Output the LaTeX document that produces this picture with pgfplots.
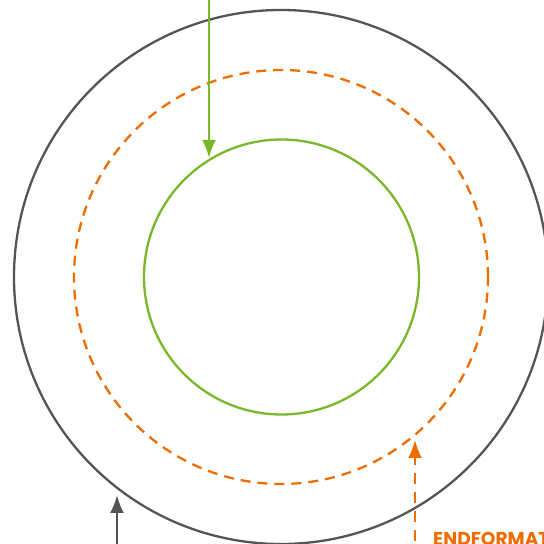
\documentclass[border=0pt]{standalone}
\usepackage{pgfplots}
\pgfplotsset{compat=1.18}
\usetikzlibrary{arrows.meta}
\usepackage{fontspec}
\setmainfont{Poppins}
\definecolor{cgray}{HTML}{555555}
\definecolor{cgreen}{HTML}{78B82A}
\definecolor{corange}{HTML}{EF6C00}
\begin{document}
\begin{tikzpicture}
\begin{axis}[
  width=544pt, height=544pt, scale only axis,
  xmin=0, xmax=544, ymin=0, ymax=544,
  hide axis, clip=true, axis equal image,
]
% circles (center, radius in px)
\draw[cgray, line width=2.3pt] (axis cs:281,267) circle [radius=267];
\draw[corange, line width=2.3pt, dash pattern=on 10pt off 7pt] (axis cs:281,267) circle [radius=207];
\draw[cgreen, line width=2.3pt] (axis cs:281.5,267) circle [radius=137.5];
% arrows
\addplot[cgreen, line width=2.3pt, -{Latex[length=18pt,width=14pt]}] coordinates {(209,550) (209,386)};
\addplot[cgray, line width=2.3pt, -{Latex[length=18pt,width=14pt]}] coordinates {(117,-5) (117,49)};
\addplot[corange, line width=2.3pt, dash pattern=on 11pt off 8pt, -{Latex[length=18pt,width=14pt]}] coordinates {(415,3) (415,104)};
\node[anchor=base west, text=corange, font=\fontsize{18.6}{22}\selectfont\bfseries, inner sep=0pt] at (axis cs:433,-1.5) {ENDFORMAT};
\end{axis}
\pgfresetboundingbox
\path (current axis.south west) rectangle (current axis.north east);
\end{tikzpicture}
\end{document}
